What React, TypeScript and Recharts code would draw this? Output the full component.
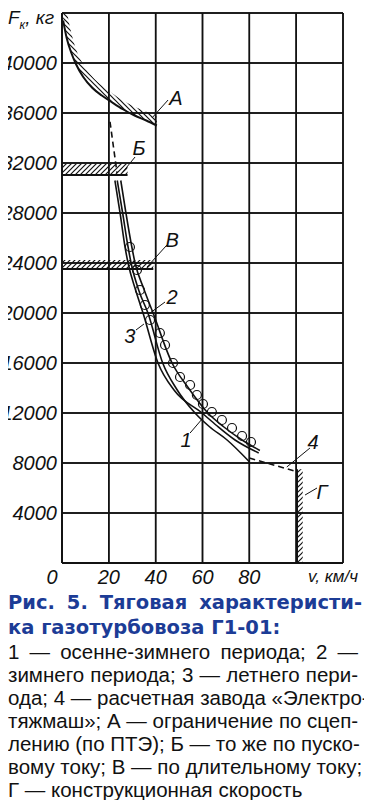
import {
  ComposedChart,
  Line,
  Area,
  Scatter,
  XAxis,
  YAxis,
  CartesianGrid,
  ReferenceLine,
  ReferenceDot,
} from "recharts";

const FONT = "'Liberation Sans', Arial, sans-serif";
const INK = "#111111";

// оси
const xTicks = [0, 20, 40, 60, 80, 100, 120];
const yTicks = [0, 4000, 8000, 12000, 16000, 20000, 24000, 28000, 32000, 36000, 40000, 44000];

// А — ограничение по сцеплению (кривая и верх штриховки)
const aV = [0.5, 2, 4, 6, 9, 13, 17, 21, 26, 31, 36, 40.5];
const aF = [43400, 42000, 40800, 39900, 38900, 38000, 37400, 36900, 36300, 35800, 35400, 35000];
const aTop = [46000, 44200, 42400, 41100, 39900, 38900, 38200, 37650, 37000, 36500, 36100, 35700];

// Б — по пусковому току
const bV = [0, 28];
const bF = [31040, 31040];
const bTop = [31950, 31950];

// В — по длительному току
const vV = [0, 39];
const vF = [23520, 23520];
const vTop = [24250, 24250];

// Г — конструкционная скорость
const gV = [100.4, 102.8];
const gF = [7500, 7500];

// кривые 1, 2, 3
const c1V = [23.6, 25.9, 28.2, 29.5, 33, 36.7, 43, 49, 56.8, 63, 70.5, 80];
const c1F = [30600, 28000, 25300, 24000, 21700, 20000, 16000, 13900, 12000, 10900, 9840, 8100];
const c2V = [25.1, 27.3, 29.8, 31.2, 35, 38.9, 47, 54, 62.3, 69, 76.9, 84.5];
const c2F = [30600, 28000, 25300, 24000, 21900, 20000, 16000, 14000, 12000, 10900, 9840, 9000];
const c3V = [22.6, 24.8, 26.9, 28.2, 31.5, 34.6, 41, 48, 59.8, 66, 73.9, 84];
const c3F = [30600, 28000, 25300, 24000, 21800, 20000, 16000, 13800, 12000, 11000, 9840, 8800];

// 4 — расчетная (пунктир)
const c4aV = [20.5, 23.5];
const c4aF = [35300, 31200];
const c4bV = [80, 100.5];
const c4bF = [8400, 7300];

// опытные точки
const ptV = [29, 32, 33.3, 35.4, 37.6, 41.8, 44, 47.4, 50.4, 54.7, 57.6, 60.2, 64, 68.3, 72.6, 76.9, 80.7];
const ptF = [25280, 23440, 21840, 20640, 19440, 18400, 17440, 16000, 14880, 14240, 13440, 12720, 12080, 11440, 10800, 10160, 9680];

// подписи на поле и выноски
const notes = ["А", "Б", "В", "Г", "4", "1", "2", "3"];
const noteV = [48.7, 32.9, 47, 111, 107.2, 53, 47, 29];
const noteF = [37200, 33200, 25840, 5680, 9680, 9840, 21280, 18160];
const leadV1 = [45.3, 31.2, 44.8, 108.9, 105.9, 54.7, 44, 31.6];
const leadF1 = [37040, 32480, 25440, 6000, 9200, 10400, 20880, 18640];
const leadV2 = [38.4, 25.6, 36.3, 103.8, 96, 60.2, 37.6, 35];
const leadF2 = [35600, 31200, 23680, 5440, 7680, 11600, 20000, 19120];

const titleLines = ["Рис. 5. Тяговая характеристи-", "ка газотурбовоза Г1-01:"];
const bodyLines = [
  "1 — осенне-зимнего периода; 2 —",
  "зимнего периода; 3 — летнего пери-",
  "ода; 4 — расчетная завода «Электро-",
  "тяжмаш»; А — ограничение по сцеп-",
  "лению (по ПТЭ); Б — то же по пуско-",
  "вому току; В — по длительному току;",
  "Г — конструкционная скорость",
];

const pts = (v: number[], f: number[]) => v.map((x, i) => ({ v: x, F: f[i] }));
const band = (v: number[], lo: number[], hi: number[]) => v.map((x, i) => ({ v: x, r: [lo[i], hi[i]] }));

const aData = pts(aV, aF);
const aBand = band(aV, aF, aTop);
const bData = pts(bV, bF);
const bBand = band(bV, bF, bTop);
const vData = pts(vV, vF);
const vBand = band(vV, vF, vTop);
const gBand = band(gV, [0, 0], gF);
const gLine = [{ v: gV[0], F: 0 }, { v: gV[0], F: gF[0] }];

const tickStyle = { fontFamily: FONT, fontStyle: "italic" as const, fill: INK };

function YTick(props: any) {
  const { x, y, payload } = props;
  if (payload.value === 0 || payload.value === 44000) return null;
  return (
    <text x={x} y={y} dy={7} textAnchor="end" {...tickStyle} style={{ fontSize: 20 }}>
      {payload.value}
    </text>
  );
}

function XTick(props: any) {
  const { x, y, payload } = props;
  if (payload.value === 100) return null;
  if (payload.value === 120) {
    return (
      <text x={x + 15} y={y} dy={11} textAnchor="end" {...tickStyle} style={{ fontSize: 17 }}>
        v, км/ч
      </text>
    );
  }
  return (
    <text x={payload.value === 0 ? x - 10 : x} y={y} dy={13} textAnchor="middle" {...tickStyle} style={{ fontSize: 20 }}>
      {payload.value}
    </text>
  );
}

const lineProps = {
  dot: false,
  activeDot: false,
  isAnimationActive: false,
  stroke: INK,
  strokeWidth: 1.6,
  type: "monotone" as const,
  legendType: "none" as const,
};

const axisLine = { stroke: INK, strokeWidth: 1.5 };

export default function App() {
  return (
    <div style={{ width: 372, margin: "-8px 0 0 -8px", background: "#fff" }}>
      <ComposedChart width={372} height={600} margin={{ top: 13, right: 29, left: 0, bottom: 7 }}>
        <defs>
          <pattern id="hatchBack" width="5" height="5" patternUnits="userSpaceOnUse">
            <path d="M0,0 L5,5 M-1,4 L1,6 M4,-1 L6,1" stroke={INK} strokeWidth="1.2" />
          </pattern>
          <pattern id="hatchFwd" width="5" height="5" patternUnits="userSpaceOnUse">
            <path d="M0,5 L5,0 M-1,1 L1,-1 M4,6 L6,4" stroke={INK} strokeWidth="1.2" />
          </pattern>
        </defs>
        <CartesianGrid stroke={INK} strokeWidth={1.5} />
        <XAxis
          type="number"
          dataKey="v"
          domain={[0, 120]}
          ticks={xTicks}
          allowDataOverflow
          tickSize={0}
          tickMargin={8}
          height={30}
          axisLine={axisLine}
          tick={<XTick />}
        />
        <YAxis
          type="number"
          domain={[0, 44000]}
          ticks={yTicks}
          allowDataOverflow
          tickSize={0}
          tickMargin={5}
          width={62}
          axisLine={axisLine}
          tick={<YTick />}
        />
        {xTicks.map((t) => (
          <ReferenceLine key={"gx" + t} x={t} stroke={INK} strokeWidth={1.5} />
        ))}
        {yTicks.map((t) => (
          <ReferenceLine key={"gy" + t} y={t} stroke={INK} strokeWidth={1.5} />
        ))}

        <Area data={aBand} dataKey="r" type="monotone" fill="url(#hatchBack)" fillOpacity={1} stroke="none" isAnimationActive={false} activeDot={false} />
        <Area data={bBand} dataKey="r" type="linear" fill="url(#hatchFwd)" fillOpacity={1} stroke="none" isAnimationActive={false} activeDot={false} />
        <Area data={vBand} dataKey="r" type="linear" fill="url(#hatchFwd)" fillOpacity={1} stroke="none" isAnimationActive={false} activeDot={false} />
        <Area data={gBand} dataKey="r" type="linear" fill="url(#hatchFwd)" fillOpacity={1} stroke="none" isAnimationActive={false} activeDot={false} />

        <Line data={aData} dataKey="F" {...lineProps} strokeWidth={2} />
        <Line data={bData} dataKey="F" {...lineProps} type="linear" strokeWidth={1.8} />
        <Line data={vData} dataKey="F" {...lineProps} type="linear" strokeWidth={1.8} />
        <Line data={gLine} dataKey="F" {...lineProps} type="linear" strokeWidth={1.8} />

        <Line data={pts(c1V, c1F)} dataKey="F" {...lineProps} />
        <Line data={pts(c2V, c2F)} dataKey="F" {...lineProps} />
        <Line data={pts(c3V, c3F)} dataKey="F" {...lineProps} />
        <Line data={pts(c4aV, c4aF)} dataKey="F" {...lineProps} type="linear" strokeDasharray="6 4" />
        <Line data={pts(c4bV, c4bF)} dataKey="F" {...lineProps} type="linear" strokeDasharray="6 4" />

        <Scatter
          data={pts(ptV, ptF)}
          dataKey="F"
          isAnimationActive={false}
          shape={(p: any) => <circle cx={p.cx} cy={p.cy} r={4.5} fill="none" stroke={INK} strokeWidth={1.2} />}
        />

        {notes.map((n, i) => (
          <ReferenceLine
            key={"l" + i}
            segment={[
              { x: leadV1[i], y: leadF1[i] },
              { x: leadV2[i], y: leadF2[i] },
            ]}
            stroke={INK}
            strokeWidth={1}
          />
        ))}
        {notes.map((n, i) => (
          <ReferenceDot
            key={"n" + i}
            x={noteV[i]}
            y={noteF[i]}
            r={0}
            shape={(p: any) => (
              <text x={p.cx} y={p.cy} dy={7} textAnchor="middle" {...tickStyle} style={{ fontSize: 20 }}>
                {n}
              </text>
            )}
          />
        ))}

        <text x={8} y={24} fontFamily={FONT} fontStyle="italic" fill={INK} style={{ fontSize: 19 }}>
          F
          <tspan fontSize={12} dy={5}>к</tspan>
          <tspan dy={-5}>, кг</tspan>
        </text>
      </ComposedChart>

      <div style={{ marginTop: -10.5, paddingLeft: 8 }}>
        {titleLines.map((t, i) => (
          <div
            key={"t" + i}
            style={{
              width: i === 0 ? 354 : "auto",
              whiteSpace: "nowrap",
              textAlign: "justify",
              textAlignLast: i === 0 ? "justify" : "left",
              fontFamily: "'DejaVu Sans', sans-serif",
              fontWeight: 700,
              fontSize: 19.5,
              lineHeight: "25px",
              color: "#1c3c96",
            }}
          >
            {t}
          </div>
        ))}
        {bodyLines.map((t, i) => (
          <div
            key={"b" + i}
            style={{
              width: i < bodyLines.length - 1 ? 350 : "auto",
              whiteSpace: "nowrap",
              textAlign: "justify",
              textAlignLast: i < bodyLines.length - 1 ? "justify" : "left",
              fontFamily: FONT,
              fontSize: 20.5,
              lineHeight: "23px",
              color: "#111",
            }}
          >
            {t}
          </div>
        ))}
      </div>
    </div>
  );
}
